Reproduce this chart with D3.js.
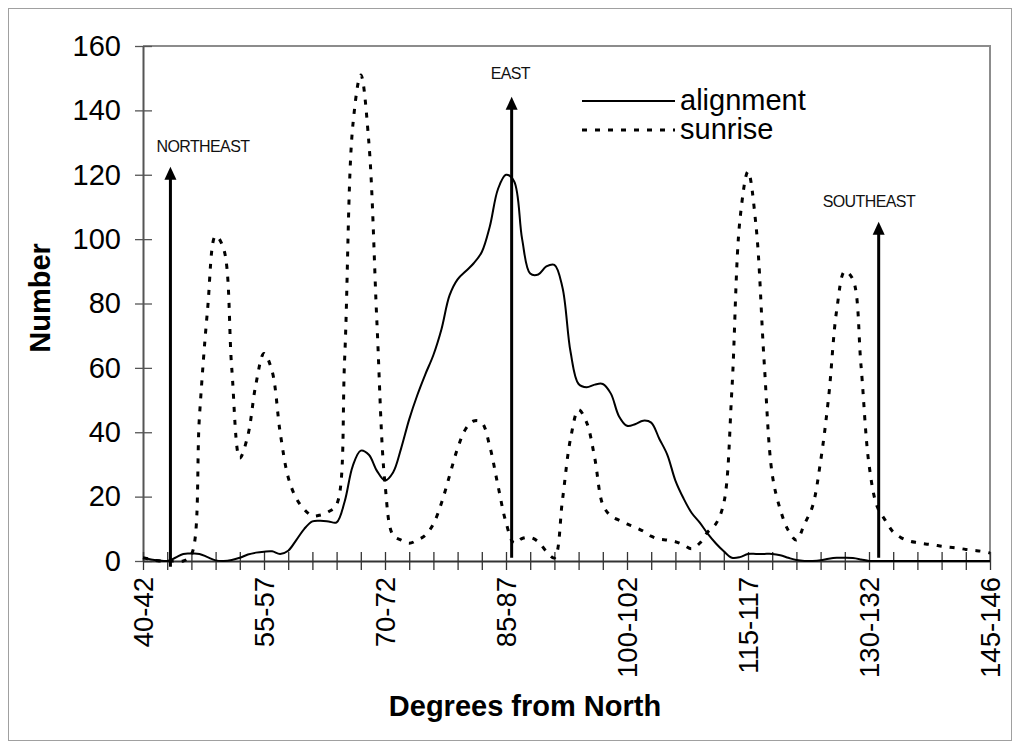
<!DOCTYPE html>
<html>
<head>
<meta charset="utf-8">
<script src="https://cdn.jsdelivr.net/npm/d3@7"></script>
<style>
body{margin:0;background:#fff;}
svg{display:block;font-family:Arial,"Liberation Sans",sans-serif;}
</style>
</head>
<body>
<svg width="1020" height="749"></svg>
<script>
// degrees (start of each 3-degree window)
const degrees=[40,41,42,43,44,45,46,47,48,49,50,51,52,53,54,55,56,57,58,59,
60,61,62,63,64,65,66,67,68,69,70,71,72,73,74,75,76,77,78,79,
80,81,82,83,84,85,86,87,88,89,90,91,92,93,94,95,96,97,98,99,
100,101,102,103,104,105,106,107,108,109,110,111,112,113,114,115,116,117,118,119,
120,121,122,123,124,125,126,127,128,129,130,131,132,133,134,135,136,137,138,139,
140,141,142,143,144,145];

const alignment=[1,0.5,0.2,0,1,2.2,2.3,2.2,1.2,0.2,0,0.3,1,2,2.6,2.9,3,2.2,3.2,6.5,
10,12.3,12.5,12.3,12,18.5,29.5,34.3,33,28,25,27.5,35,44,51.5,58,64,72,82.5,87.5,
90,92.5,96,104,115.5,120,118,100,89.3,89,91.5,92,85,65,55,54,54.8,55,52,45,
42,42.5,43.6,43,38,33,25,19.5,15,12,8.5,5.5,3,1,1.2,2.2,2.2,2.2,2.2,1.8,
1,0.3,0,0,0.2,0.7,1,1,0.9,0.5,0,0,0,0,0,0,0,0,0,0,
0,0,0,0,0,0];

const sunrise=[1,0.5,0,0,0,0,2,45,78,101,97,60,32,39,55,64.5,59,40,26,19.5,
16,14,14.3,15.3,17.5,63,135,151,130,74,24,8,6.5,5.5,6.5,8,11.5,18,26.5,35,
41,43.5,43,35.5,23.5,12,5.5,7,7.3,6,3,1,19,38,47,43,32,17.5,14,12.7,
11.5,10.5,9.3,7.7,6.8,6.5,6,5,3.8,5.5,9,11.5,18,53,106,121,104,62,27,16,
9.5,6.5,11.5,17,31,51,78,90,87.5,61,30,17,12.7,9,7.2,6.2,5.7,5.3,5,4.6,
4.3,4,3.6,3.3,3,2.5];

const tickDegrees=[40,43,46,49,52,55,58,61,64,67,70,73,76,79,82,85,88,91,94,97,
100,103,106,109,112,115,118,121,124,127,130,133,136,139,142,145];
const labelDegrees=[40,55,70,85,100,115,130,145];
const tickLabels=["40-42","55-57","70-72","85-87","100-102","115-117","130-132","145-146"];
const yTicks=[0,20,40,60,80,100,120,140,160];

// direction arrows (hand placed in the original)
const arrowNames=["NORTHEAST","EAST","SOUTHEAST"];
const arrowDeg=[43.4,85.7,131.2];
const arrowTop=[122.5,144.2,105.4];
const arrowBase=[-1.8,1,1];

const seriesNames=["alignment","sunrise"];

const svg=d3.select('svg');
const width=+svg.attr('width');
const height=+svg.attr('height');
const plot={left:143,right:990,top:46,bottom:561};

// outer frame
svg.append('rect')
   .attr('x',8.5).attr('y',8.5)
   .attr('width',width-17).attr('height',height-17)
   .attr('fill','#fff').attr('stroke','#a0a0a0').attr('stroke-width',1);

const x=d3.scaleLinear().domain([40,145]).range([plot.left,plot.right]);
const y=d3.scaleLinear().domain([0,160]).range([plot.bottom,plot.top]);

// plot area border (top, right)
svg.append('path')
   .attr('d',`M${plot.left},${plot.top}H${plot.right}V${plot.bottom}`)
   .attr('fill','none').attr('stroke','#8c8c8c').attr('stroke-width',2);

/* y axis */
const yAxis=d3.axisLeft(y).tickValues(yTicks).tickSize(8).tickSizeOuter(0).tickPadding(14);
const gy=svg.append('g')
   .attr('transform',`translate(${plot.left},0)`)
   .call(yAxis);
gy.select('.domain').attr('stroke','#555').attr('stroke-width',2);
gy.selectAll('.tick line').attr('x1',9).attr('x2',-8).attr('stroke','#555').attr('stroke-width',1.3);
gy.selectAll('.tick text')
   .attr('font-size',29).attr('fill','#000')
   .attr('font-family','Arial,"Liberation Sans",sans-serif');

/* x axis */
const labelOf=d=>{ let i=labelDegrees.indexOf(d); return i<0?'':tickLabels[i]; };
const xAxis=d3.axisBottom(x).tickValues(tickDegrees).tickFormat(labelOf).tickSize(9).tickSizeOuter(0);
const gx=svg.append('g')
   .attr('transform',`translate(0,${plot.bottom})`)
   .call(xAxis);
gx.select('.domain').attr('stroke','#333').attr('stroke-width',2);
gx.selectAll('.tick line').attr('y1',-9).attr('y2',9).attr('stroke','#333').attr('stroke-width',1.3);
gx.selectAll('.tick text')
   .attr('font-size',27.5).attr('fill','#000')
   .attr('font-family','Arial,"Liberation Sans",sans-serif')
   .attr('text-anchor','end')
   .attr('transform','rotate(-90)')
   .attr('x',-16).attr('y',0).attr('dy','0.35em');

/* lines */
const line=d3.line()
   .x((d,i)=>x(degrees[i]))
   .y(d=>y(d))
   .curve(d3.curveCatmullRom.alpha(0.5));

svg.append('path')
   .datum(sunrise)
   .attr('d',line)
   .attr('fill','none').attr('stroke','#000')
   .attr('stroke-width',3).attr('stroke-dasharray','5,8');

svg.append('path')
   .datum(alignment)
   .attr('d',line)
   .attr('fill','none').attr('stroke','#000')
   .attr('stroke-width',2);

/* arrows */
const annoDx=[-14,-21,-56];
const annoDy=[-15,-18,-15];
arrowNames.forEach((name,i)=>{
   const ax=x(arrowDeg[i]);
   const tip=y(arrowTop[i]);
   svg.append('line')
      .attr('x1',ax).attr('x2',ax)
      .attr('y1',y(arrowBase[i])).attr('y2',tip+10)
      .attr('stroke','#000').attr('stroke-width',3);
   svg.append('path')
      .attr('d',`M${ax},${tip}L${ax+6},${tip+13}L${ax-6},${tip+13}Z`)
      .attr('fill','#000');
   svg.append('text')
      .attr('x',ax+annoDx[i]).attr('y',tip+annoDy[i])
      .attr('font-size',16).attr('letter-spacing',-0.6)
      .attr('fill','#111')
      .text(name);
});

/* legend */
const legend=svg.append('g').attr('transform','translate(582,0)');
legend.append('line').attr('x1',0).attr('x2',93).attr('y1',101).attr('y2',101)
   .attr('stroke','#000').attr('stroke-width',2);
legend.append('line').attr('x1',0).attr('x2',93).attr('y1',130).attr('y2',130)
   .attr('stroke','#000').attr('stroke-width',3).attr('stroke-dasharray','5,8');
legend.selectAll('text.leg')
   .data(seriesNames)
   .enter()
   .append('text')
   .attr('class','leg')
   .attr('x',98)
   .attr('y',(d,i)=>110+i*29)
   .attr('font-size',29)
   .text(d=>d);

/* axis titles */
svg.append('text')
   .attr('x',525)
   .attr('y',716)
   .attr('text-anchor','middle')
   .attr('font-weight','bold')
   .attr('font-size',29)
   .text('Degrees from North');
svg.append('text')
   .attr('transform',`translate(50,298) rotate(-90)`)
   .attr('text-anchor','middle')
   .attr('font-weight','bold')
   .attr('font-size',29)
   .text('Number');
</script>
</body>
</html>
